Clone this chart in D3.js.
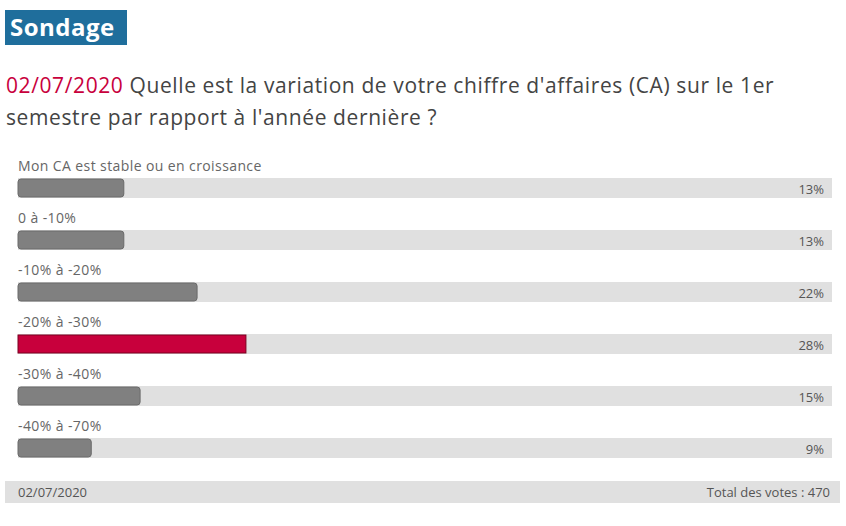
<!DOCTYPE html>
<html><head><meta charset="utf-8">
<script src="https://cdn.jsdelivr.net/npm/d3@7"></script>
<style>body{margin:0;background:#fff;font-family:"Open Sans",sans-serif}</style>
</head><body><svg id="c" width="846" height="526"></svg>
<script>
const categories=["Mon CA est stable ou en croissance","0 à -10%","-10% à -20%","-20% à -30%","-30% à -40%","-40% à -70%"];
const values=[13,13,22,28,15,9];
const highlight=[false,false,false,true,false,false];
const svg=d3.select("#c");
svg.append("rect").attr("x",5).attr("y",10).attr("width",122).attr("height",35).attr("fill","#1f6e9c");
svg.append("text").attr("x",10).attr("y",36).attr("fill","#fff").attr("font-size",24).attr("font-weight","bold").attr("letter-spacing",0.5).text("Sondage");
const q=svg.append("text").attr("x",6).attr("y",93).attr("font-size",21).attr("letter-spacing",0.6).attr("fill","#444");
q.append("tspan").attr("fill","#c8003c").text("02/07/2020");
q.append("tspan").text(" Quelle est la variation de votre chiffre d'affaires (CA) sur le 1er");
svg.append("text").attr("x",6).attr("y",125).attr("font-size",21).attr("letter-spacing",0.6).attr("fill","#444").text("semestre par rapport à l'année dernière ?");
const x=d3.scaleLinear().domain([0,100]).range([18,832]);
const y=d3.scaleBand().domain(categories).range([158,470]).paddingInner(0);
const g=svg.selectAll("g.r").data(categories).join("g");
g.append("text").attr("x",18).attr("y",c=>y(c)+13).attr("font-size",14).attr("letter-spacing",0.4).attr("fill","#666").text(c=>c);
g.append("rect").attr("x",x(0)).attr("y",c=>y(c)+20).attr("width",x(100)-x(0)).attr("height",20).attr("fill","#e0e0e0");
g.append("rect").attr("x",x(0)).attr("y",c=>y(c)+21).attr("width",(c,i)=>x(values[i])-x(0)).attr("height",18)
 .attr("rx",(c,i)=>highlight[i]?0:3)
 .attr("fill",(c,i)=>highlight[i]?"#c8003c":"#808080").attr("stroke",(c,i)=>highlight[i]?"#7a0020":"#6a6a6a");
g.append("text").attr("x",824).attr("y",c=>y(c)+36).attr("text-anchor","end").attr("font-size",13).attr("fill","#555").text((c,i)=>values[i]+"%");
svg.append("rect").attr("x",5).attr("y",481).attr("width",835).attr("height",22).attr("fill","#e0e0e0");
svg.append("text").attr("x",18).attr("y",497).attr("font-size",13).attr("fill","#555").text("02/07/2020");
svg.append("text").attr("x",830).attr("y",497).attr("text-anchor","end").attr("font-size",13).attr("fill","#555").text("Total des votes : 470");
</script></body></html>
